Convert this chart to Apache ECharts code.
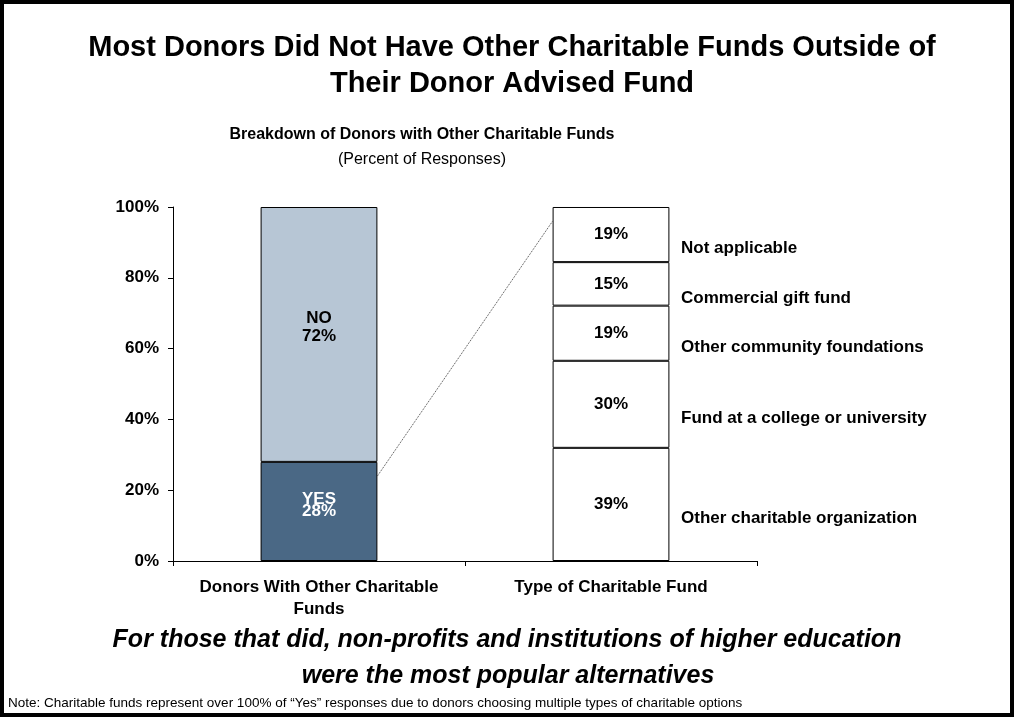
<!DOCTYPE html>
<html>
<head>
<meta charset="utf-8">
<script src="https://cdn.jsdelivr.net/npm/echarts@6/dist/echarts.min.js"></script>
<style>
  html, body { margin: 0; padding: 0; background: #fff; }
  #chart { width: 1014px; height: 717px; }
</style>
</head>
<body>
<div id="chart"></div>
<script>
// Categories on the x axis
const categories = ['Donors With Other Charitable\nFunds', 'Type of Charitable Fund'];

// Left column: share of donors with / without other charitable funds (%)
const donorLabels = ['YES', 'NO'];
const donorValues = [28, 72];

// Right column: type of charitable fund among "Yes" responses (%), bottom to top
const fundTypes = ['Other charitable organization', 'Fund at a college or university',
  'Other community foundations', 'Commercial gift fund', 'Not applicable'];
const fundValues = [39, 30, 19, 15, 19];

// Y axis ticks
const yTicks = [0, 20, 40, 60, 80, 100];

// Connector from the YES segment to the fund column (y values in %)
const connector = [24, 96];

const FONT = 'Liberation Sans, Arial, sans-serif';
const LABEL_SIZE = 17;
const fundTotal = fundValues.reduce((a, b) => a + b, 0);

const series = [];
// YES / NO stacked column
const donorColors = ['#4a6885', '#b7c6d5'];
donorValues.forEach((v, i) => {
  series.push({
    type: 'bar', stack: 'total', barWidth: '40%',
    data: [v, '-'],
    itemStyle: { color: donorColors[i], borderColor: '#000', borderWidth: 1 },
    label: {
      show: true, position: 'inside',
      formatter: donorLabels[i] + '\n' + v + '%',
      fontFamily: FONT, fontWeight: 'bold', fontSize: LABEL_SIZE,
      color: i === 0 ? '#fff' : '#000',
      lineHeight: i === 0 ? 12 : 18,
      offset: [0, i === 0 ? -6 : -7]
    }
  });
});

// Fund type column, each response share scaled to the full column height
const centers = [];
let cum = 0;
fundValues.forEach((v, i) => {
  const h = v / fundTotal * 100;
  centers.push(cum + h / 2);
  cum += h;
  series.push({
    type: 'bar', stack: 'total', barWidth: '40%',
    data: ['-', h],
    itemStyle: { color: '#fff', borderColor: '#000', borderWidth: 1 },
    label: {
      show: true, position: 'inside', formatter: v + '%',
      fontFamily: FONT, fontWeight: 'bold', fontSize: LABEL_SIZE, color: '#000'
    }
  });
});

// Fund type names beside the column
series.push({
  type: 'scatter', symbolSize: 0, silent: true,
  itemStyle: { opacity: 1 },
  data: fundTypes.map((name, i) => ({ value: [1, centers[i]], name })),
  label: {
    show: true, position: 'right', distance: 0, offset: [70, 14],
    formatter: p => p.name,
    fontFamily: FONT, fontWeight: 'bold', fontSize: LABEL_SIZE, color: '#000'
  }
});

// Dotted connector between the two columns
series.push({
  type: 'line', xAxisIndex: 1, symbol: 'none', silent: true,
  data: [[0.7, connector[0]], [1.3, connector[1]]],
  lineStyle: { type: 'dotted', color: '#444', width: 1 }
});

const chart = echarts.init(document.getElementById('chart'), null, { renderer: 'canvas' });
chart.setOption({
  animation: false,
  backgroundColor: '#fff',
  grid: { left: 173, right: 257, top: 207, bottom: 156 },
  xAxis: [{
    type: 'category', data: categories,
    axisLine: { lineStyle: { color: '#000', width: 1 } },
    axisTick: { show: true, length: 5, lineStyle: { color: '#000' } },
    axisLabel: {
      fontFamily: FONT, fontWeight: 'bold', fontSize: LABEL_SIZE, color: '#000',
      lineHeight: 22, margin: 15, interval: 0
    }
  }, {
    type: 'value', min: 0, max: 2, show: false
  }],
  yAxis: {
    type: 'value', min: yTicks[0], max: yTicks[yTicks.length - 1],
    interval: yTicks[1] - yTicks[0],
    splitLine: { show: false },
    axisLine: { show: true, lineStyle: { color: '#000', width: 1 } },
    axisTick: { show: true, length: 5, lineStyle: { color: '#000' } },
    axisLabel: {
      formatter: '{value}%', fontFamily: FONT, fontWeight: 'bold',
      fontSize: LABEL_SIZE, color: '#000', margin: 14
    }
  },
  series: series,
  graphic: [
    { type: 'rect', shape: { x: 0, y: 0, width: 1014, height: 717 },
      style: { fill: 'none', stroke: '#000', lineWidth: 8 }, z: 100 },
    { type: 'text', style: { text: 'Most Donors Did Not Have Other Charitable Funds Outside of',
      x: 512, y: 48, align: 'center', verticalAlign: 'middle',
      font: 'bold 29px ' + FONT, fill: '#000' } },
    { type: 'text', style: { text: 'Their Donor Advised Fund',
      x: 512, y: 84, align: 'center', verticalAlign: 'middle',
      font: 'bold 29px ' + FONT, fill: '#000' } },
    { type: 'text', style: { text: 'Breakdown of Donors with Other Charitable Funds',
      x: 422, y: 135, align: 'center', verticalAlign: 'middle',
      font: 'bold 16px ' + FONT, fill: '#000' } },
    { type: 'text', style: { text: '(Percent of Responses)',
      x: 422, y: 160, align: 'center', verticalAlign: 'middle',
      font: '16px ' + FONT, fill: '#000' } },
    { type: 'text', style: { text: 'For those that did, non-profits and institutions of higher education',
      x: 507, y: 640, align: 'center', verticalAlign: 'middle',
      font: 'italic bold 25px ' + FONT, fill: '#000' } },
    { type: 'text', style: { text: 'were the most popular alternatives',
      x: 508, y: 676, align: 'center', verticalAlign: 'middle',
      font: 'italic bold 25px ' + FONT, fill: '#000' } },
    { type: 'text', style: { text: 'Note: Charitable funds represent over 100% of \u201CYes\u201D responses due to donors choosing multiple types of charitable options',
      x: 8, y: 703, align: 'left', verticalAlign: 'middle',
      font: '13.5px ' + FONT, fill: '#000' } }
  ]
});
</script>
</body>
</html>
